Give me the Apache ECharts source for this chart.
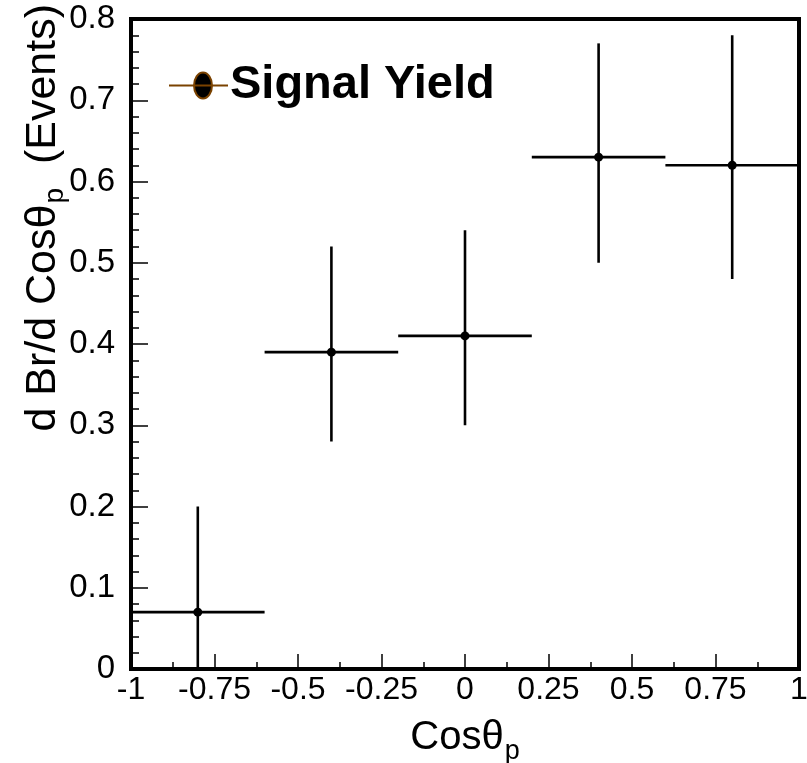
<!DOCTYPE html>
<html>
<head>
<meta charset="utf-8">
<script src="https://cdn.jsdelivr.net/npm/echarts@6/dist/echarts.min.js"></script>
<style>
  html, body { margin: 0; padding: 0; background: #fff; }
  #chart { width: 807px; height: 763px; }
</style>
</head>
<body>
<div id="chart"></div>
<script>
// Angular distribution of the signal yield, five bins in cos(theta_p)
const binCenters = [-0.8, -0.4, 0, 0.4, 0.8];
const binLow     = [-1, -0.6, -0.2, 0.2, 0.6];
const binHigh    = [-0.6, -0.2, 0.2, 0.6, 1];
const yields     = [0.07, 0.39, 0.41, 0.63, 0.62];
const errUp      = [0.13, 0.13, 0.13, 0.14, 0.16];
const errDown    = [0.07, 0.11, 0.11, 0.13, 0.14];

const seriesName = 'Signal Yield';
const xRange = [-1, 1];
const yRange = [0, 0.8];

const FONT = '"Liberation Sans", Arial, Helvetica, sans-serif';

const points = binCenters.map((c, i) => [
  c, yields[i], yields[i] - errDown[i], yields[i] + errUp[i], binLow[i], binHigh[i]
]);

function renderErrorCross(params, api) {
  const y = api.value(1);
  const centre = api.coord([api.value(0), y]);
  const left = api.coord([api.value(4), y]);
  const right = api.coord([api.value(5), y]);
  const bottom = api.coord([api.value(0), api.value(2)]);
  const top = api.coord([api.value(0), api.value(3)]);
  const lineStyle = { stroke: '#000', lineWidth: 2.6 };
  return {
    type: 'group',
    children: [
      { type: 'line', shape: { x1: left[0], y1: left[1], x2: right[0], y2: right[1] }, style: lineStyle },
      { type: 'line', shape: { x1: top[0], y1: top[1], x2: bottom[0], y2: bottom[1] }, style: lineStyle },
      { type: 'circle', shape: { cx: centre[0], cy: centre[1], r: 4.5 }, style: { fill: '#000' } }
    ]
  };
}

const chart = echarts.init(document.getElementById('chart'), null, { renderer: 'canvas' });

chart.setOption({
  animation: false,
  backgroundColor: '#fff',
  grid: {
    left: 131, right: 8, top: 19, bottom: 94,
    outerBoundsMode: 'none',
    containLabel: false,
    show: true, borderColor: '#000', borderWidth: 4, backgroundColor: 'transparent'
  },
  legend: {
    left: 168, top: 62, padding: 0,
    itemWidth: 59, itemHeight: 26, itemGap: 0,
    textStyle: { fontFamily: FONT, fontSize: 47, fontWeight: 'bold', color: '#000', lineHeight: 46, padding: [0, 0, 0, -3] },
    data: [{
      name: seriesName,
      icon: 'path://M0 13 L59 13 M34 0 A9 13 0 1 1 34 26 A9 13 0 1 1 34 0 Z',
      itemStyle: { color: '#000', borderColor: '#7a4200', borderWidth: 2 }
    }]
  },
  xAxis: {
    type: 'value',
    min: xRange[0], max: xRange[1], interval: 0.25,
    name: '{m|Cosθ}{s|p}',
    nameLocation: 'middle', nameGap: 38,
    nameTextStyle: {
      rich: {
        m: { fontFamily: FONT, fontSize: 40, color: '#000', lineHeight: 40, verticalAlign: 'top' },
        s: { fontFamily: FONT, fontSize: 27, color: '#000', lineHeight: 27, padding: [27, 0, 0, 1] }
      }
    },
    axisLine: { show: true, onZero: false, lineStyle: { color: '#000', width: 4 } },
    axisTick: { show: true, inside: true, length: 15, lineStyle: { color: '#000', width: 1.5 } },
    minorTick: { show: true, splitNumber: 2, length: 7, lineStyle: { color: '#000', width: 1.5 } },
    splitLine: { show: false },
    axisLabel: {
      fontFamily: FONT, fontSize: 32, color: '#000', margin: 5,
      showMinLabel: true, showMaxLabel: true
    }
  },
  yAxis: {
    type: 'value',
    min: yRange[0], max: yRange[1], interval: 0.1,
    axisLine: { show: true, onZero: false, lineStyle: { color: '#000', width: 4 } },
    axisTick: { show: true, inside: true, length: 17, lineStyle: { color: '#000', width: 1.5 } },
    minorTick: { show: true, splitNumber: 5, length: 8, lineStyle: { color: '#000', width: 1.5 } },
    splitLine: { show: false },
    axisLabel: {
      fontFamily: FONT, fontSize: 33, color: '#000', margin: 16,
      showMinLabel: true, showMaxLabel: true
    }
  },
  graphic: [{
    type: 'text',
    x: 43, y: 4,
    rotation: Math.PI / 2,
    style: {
      text: '{m|d Br/d Cosθ}{s|p}{m|  (Events)}',
      align: 'right',
      verticalAlign: 'middle',
      rich: {
        m: { fontFamily: FONT, fontSize: 43, fill: '#000', lineHeight: 43, verticalAlign: 'top' },
        s: { fontFamily: FONT, fontSize: 28, fill: '#000', lineHeight: 28, padding: [24, 0, 0, 1] }
      }
    }
  }],
  series: [{
    name: seriesName,
    type: 'custom',
    renderItem: renderErrorCross,
    clip: true,
    encode: { x: 0, y: 1 },
    itemStyle: { color: '#000' },
    data: points
  }]
});
</script>
</body>
</html>
